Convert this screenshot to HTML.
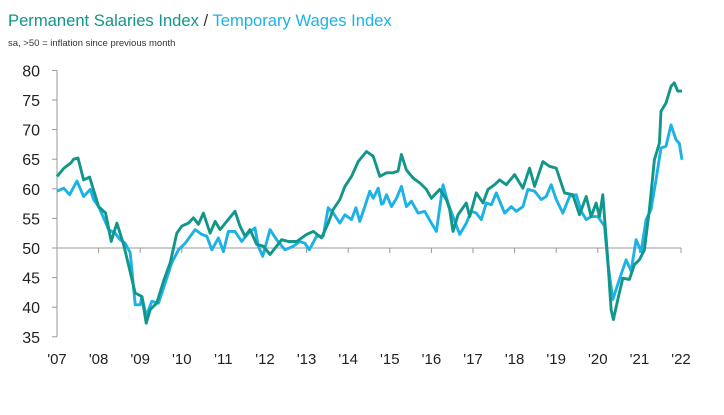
<!DOCTYPE html>
<html><head><meta charset="utf-8"><style>
body{margin:0;background:#fff;font-family:"Liberation Sans",sans-serif}
#t{position:absolute;left:8px;top:11px;font-size:16.6px;color:#333}
#s{position:absolute;left:8px;top:38px;font-size:9.5px;color:#333}
</style></head><body>
<div id="t"><span style="color:#12968a">Permanent Salaries Index</span> / <span style="color:#1cb2e6">Temporary Wages Index</span></div>
<div id="s">sa, &gt;50 = inflation since previous month</div>
<svg id="c" width="724" height="415" style="position:absolute;left:0;top:0"></svg>
<script>
const yTicks=[35,40,45,50,55,60,65,70,75,80];
const xTickLabels=["'07","'08","'09","'10","'11","'12","'13","'14","'15","'16","'17","'18","'19","'20","'21","'22"];
const permZ1=[[50,62.1],[71,63.5],[92,64.4],[100,65],[113,65.2],[130,61.5],[148,62],[175,57],[196,55.9],[213,51.1],[230,54.2],[250,50.6],[285,42.4],[305,41.8],[318,37.3],[330,39.6],[350,40.7],[370,44.4],[390,47.5],[410,52.5],[425,53.7],[445,54.2],[460,55.1],[475,54],[490,55.9],[510,52.5],[525,54.5],[540,53.1],[560,54.5],[585,56.2],[600,53.7],[615,52],[630,53.1],[650,50.6],[670,50.3],[690,48.9],[710,50.3],[725,51.4],[745,51.1],[770,51.1],[800,52.3],[820,52.8],[845,51.7],[865,54.2],[880,56.5],[900,58.2],[915,60.4],[935,62.1],[955,64.6],[980,66.3],[1000,65.5]];
const permZ2=[[60,62.1],[80,62.7],[100,62.7],[115,63],[125,65.8],[140,63.2],[160,61.8],[180,61],[200,59.9],[215,58.4],[240,59.9],[260,58.2],[270,56.5],[280,52.8],[295,55.6],[320,57.6],[330,55.3],[350,59.3],[370,57.6],[385,59.9],[405,60.7],[420,61.5],[440,60.7],[465,62.4],[490,60.1],[510,63.5],[525,60.4],[550,64.6],[570,63.8],[590,63.5],[615,59.3],[640,59],[660,55.6],[680,58.7],[695,55.3],[710,57.6],[720,55.3],[730,59],[745,48],[755,39.6],[762,37.9],[775,41.3],[790,44.9],[810,44.7],[825,47.2],[840,48],[855,49.7],[870,56.5],[885,64.9],[900,67.7],[905,73.1],[920,74.5],[935,77.3],[945,77.9],[955,76.5],[968,76.5]];
const tempZ1=[[50,59.6],[70,60.1],[88,59],[110,61.3],[130,58.7],[150,59.9],[160,58.2],[175,57],[190,55.1],[205,53.1],[225,52.5],[240,51.4],[255,50.8],[270,49.2],[285,40.4],[300,40.4],[305,41.8],[318,38.5],[335,41],[355,40.7],[375,44.1],[395,47.5],[415,49.7],[435,50.8],[465,53.1],[485,52.3],[500,52],[515,49.7],[535,51.7],[550,49.4],[565,52.8],[585,52.8],[605,51.1],[625,52.5],[645,53.4],[655,50.3],[668,48.6],[690,53.1],[710,51.4],[735,49.7],[760,50.3],[780,51.1],[795,50.8],[808,49.7],[830,52],[850,52],[865,56.8],[880,55.9],[900,54.2],[915,55.6],[935,54.8],[948,56.8],[960,54.5],[975,57],[990,59.6],[1000,58.4],[1015,60.1],[1025,57.4]];
const tempZ2=[[70,57.5],[80,59],[95,57],[110,58.4],[125,60.4],[140,57],[155,57.9],[175,55.9],[195,56.2],[215,54.2],[230,52.8],[250,60.7],[265,57.6],[280,55.3],[300,52.3],[320,54.2],[335,56.2],[350,55.9],[365,54.8],[380,57.6],[395,57.3],[410,59.3],[435,55.9],[455,57],[470,56.2],[490,57],[505,59.9],[525,59.6],[545,58.2],[560,58.7],[575,60.7],[590,58.2],[610,55.9],[630,58.7],[650,59],[665,56.2],[680,54.8],[695,55.3],[715,55.3],[735,53.7],[745,47.5],[760,41.3],[780,44.7],[800,48],[815,46.1],[830,51.4],[845,49.4],[860,54.8],[875,56.5],[890,61.5],[905,66.9],[920,67.2],[935,70.8],[950,68.3],[960,67.7],[968,64.9]];
const NS="http://www.w3.org/2000/svg",svg=document.getElementById('c');
const X=yr=>57+(yr-2007)*41.6, Y=v=>248-(v-50)*5.92;
const z1=p=>[2007+(p[0]-50)/125,p[1]], z2=p=>[2015+(p[0]-90)/125,p[1]];
function mk(t,a){const e=document.createElementNS(NS,t);for(const k in a)e.setAttribute(k,a[k]);svg.appendChild(e);return e;}
const ax=mk('line',{x1:57,y1:Y(80),x2:57,y2:Y(35),stroke:'#999','stroke-width':1});


yTicks.forEach(v=>{mk('line',{x1:52,x2:57,y1:Y(v),y2:Y(v),stroke:'#999'});
const t=mk('text',{x:40,y:Y(v)+6,'text-anchor':'end','font-size':16,fill:'#222'});t.textContent=v;

});
const xa=mk('line',{x1:57,y1:Y(50),x2:X(2022),y2:Y(50),stroke:'#999'});


xTickLabels.forEach((l,i)=>{mk('line',{x1:X(2007+i),x2:X(2007+i),y1:Y(50),y2:Y(50)+5,stroke:'#999'});
const t=mk('text',{x:X(2007+i),y:364,'text-anchor':'middle','font-size':15,fill:'#222'});t.textContent=l;

});
function line(pts,col,name){const d=pts.map((p,i)=>(i?'L':'M')+X(p[0]).toFixed(1)+','+Y(p[1]).toFixed(1)).join('');
const e=mk('path',{d:d,fill:'none',stroke:col,'stroke-width':2.9,'stroke-linejoin':'round'});

}
line(tempZ1.map(z1).concat(tempZ2.map(z2)),'#1cb2e6','temporary-wages-line');
line(permZ1.map(z1).concat(permZ2.map(z2)),'#12968a','permanent-salaries-line');
</script></body></html>
